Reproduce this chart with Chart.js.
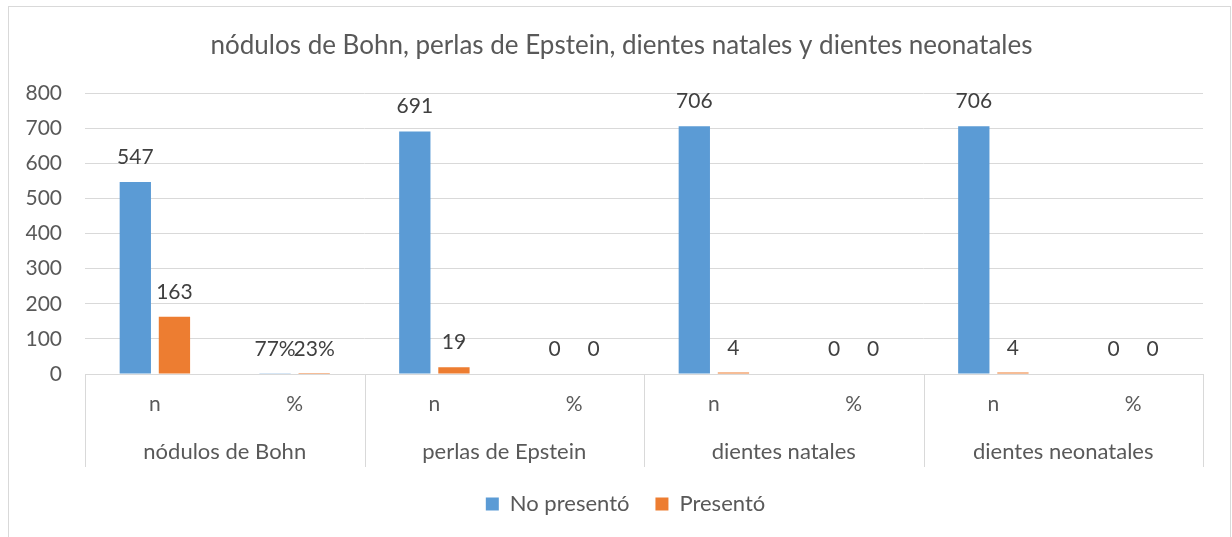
<!DOCTYPE html>
<html>
<head>
<meta charset="utf-8">
<script src="https://cdn.jsdelivr.net/npm/chart.js@4/dist/chart.umd.min.js"></script>
<style>
  html, body { margin: 0; padding: 0; background: #fff; }
  #frame { position: absolute; left: 8px; top: 6px; width: 1223px; height: 560px; border: 1px solid #d9d9d9; box-sizing: border-box; }
  #wrap { position: absolute; left: 0; top: 0; width: 1232px; height: 537px; }
</style>
</head>
<body>
<div id="frame"></div>
<div id="wrap"><canvas id="barChart" width="1232" height="537"></canvas></div>
<script>
var chartTitle = 'nódulos de Bohn, perlas de Epstein, dientes natales y dientes neonatales';
var groups = ['nódulos de Bohn', 'perlas de Epstein', 'dientes natales', 'dientes neonatales'];
var subLabels = ['n', '%', 'n', '%', 'n', '%', 'n', '%'];
var noPresento = [547, 0.77, 691, 0, 706, 0, 706, 0];
var presento = [163, 0.23, 19, 0, 4, 0, 4, 0];
var yTicks = [0, 100, 200, 300, 400, 500, 600, 700, 800];

var FONT = 'Lato';
var textColor = '#595959';
var gridColor = '#d9d9d9';

// value labels above each bar
var valueLabels = {
    id: 'valueLabels',
    afterDatasetsDraw: function (chart) {
        var ctx = chart.ctx;
        ctx.save();
        ctx.font = '21px ' + FONT;
        ctx.fillStyle = '#404040';
        ctx.textAlign = 'center';
        ctx.textBaseline = 'alphabetic';
        chart.data.datasets.forEach(function (ds, i) {
            chart.getDatasetMeta(i).data.forEach(function (bar, j) {
                var v = ds.data[j];
                var txt = (subLabels[j] === '%' && v > 0) ? Math.round(v * 100) + '%' : String(v);
                ctx.fillText(txt, bar.x, bar.y - 18);
            });
        });
        ctx.restore();
    }
};

// second level of the category axis: separators and group names
var groupAxis = {
    id: 'groupAxis',
    afterDraw: function (chart) {
        var ctx = chart.ctx;
        var x = chart.scales.x;
        var top = chart.chartArea.bottom;
        var bottom = x.bottom;
        var half = (x.getPixelForValue(1) - x.getPixelForValue(0)) / 2;
        ctx.save();
        ctx.strokeStyle = gridColor;
        ctx.lineWidth = 1;
        ctx.font = '22px ' + FONT;
        ctx.fillStyle = textColor;
        ctx.textAlign = 'center';
        ctx.textBaseline = 'middle';
        groups.forEach(function (g, k) {
            var left = x.getPixelForValue(2 * k) - half;
            var right = x.getPixelForValue(2 * k + 1) + half;
            ctx.beginPath();
            ctx.moveTo(Math.round(left) + 0.5, top);
            ctx.lineTo(Math.round(left) + 0.5, bottom);
            if (k === groups.length - 1) {
                ctx.moveTo(Math.round(right) + 0.5, top);
                ctx.lineTo(Math.round(right) + 0.5, bottom);
            }
            ctx.stroke();
            ctx.fillText(g, (left + right) / 2, top + 78);
        });
        ctx.restore();
    }
};

// title and legend are centred on the whole frame, not on the plot
var centreOnFrame = {
    id: 'centreOnFrame',
    afterLayout: function (chart) {
        chart.titleBlock.left += 20;
        chart.titleBlock.right += 20;
        chart.legend.left += 24;
        chart.legend.right += 24;
    }
};

var ctx = document.getElementById('barChart').getContext('2d');
var chart = new Chart(ctx, {
    type: 'bar',
    data: {
        labels: subLabels,
        datasets: [{
            label: 'No presentó',
            data: noPresento,
            backgroundColor: '#5B9BD5',
            categoryPercentage: 0.56,
            barPercentage: 0.8
        }, {
            label: 'Presentó',
            data: presento,
            backgroundColor: '#ED7D31',
            categoryPercentage: 0.56,
            barPercentage: 0.8
        }]
    },
    options: {
        responsive: false,
        animation: false,
        layout: { padding: { left: 0, right: 29, top: 0, bottom: 12 } },
        plugins: {
            title: {
                display: true,
                text: chartTitle,
                color: textColor,
                font: { family: FONT, size: 26, weight: 'normal' },
                padding: { top: 30, bottom: 32 }
            },
            legend: {
                position: 'bottom',
                labels: {
                    color: textColor,
                    font: { family: FONT, size: 22 },
                    boxWidth: 13,
                    boxHeight: 13,
                    padding: 26
                }
            },
            tooltip: { enabled: false }
        },
        scales: {
            x: {
                grid: { display: false },
                border: { color: gridColor },
                ticks: {
                    color: textColor,
                    font: { family: FONT, size: 21 },
                    padding: 10,
                    maxRotation: 0,
                    autoSkip: false
                },
                afterFit: function (scale) { scale.height = 93; }
            },
            y: {
                min: 0,
                max: 800,
                afterBuildTicks: function (scale) {
                    scale.ticks = yTicks.map(function (v) { return { value: v }; });
                },
                grid: { color: gridColor, drawTicks: false },
                border: { display: false },
                ticks: {
                    color: textColor,
                    font: { family: FONT, size: 21 },
                    padding: 23
                },
                afterFit: function (scale) { scale.width = 85; }
            }
        }
    },
    plugins: [valueLabels, groupAxis, centreOnFrame]
});
</script>
</body>
</html>
